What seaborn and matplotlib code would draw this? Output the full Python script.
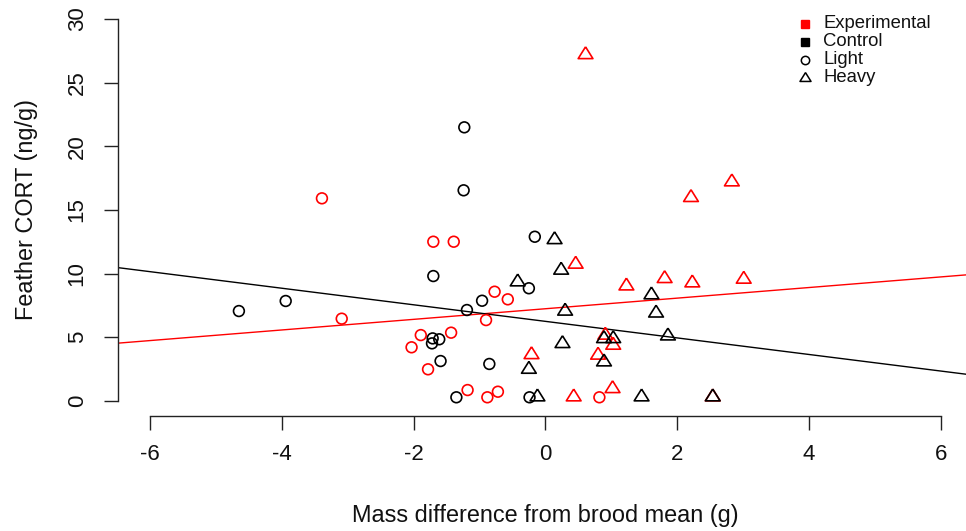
import numpy as np
import pandas as pd
import matplotlib
matplotlib.use("Agg")
import matplotlib.pyplot as plt
import seaborn as sns
from matplotlib.lines import Line2D

# ---------------- data ----------------
exp_light_x = [-3.39, -1.70, -1.39, -3.09, -1.89, -2.03, -1.43, -1.78, -1.18, -0.88, -0.72, -0.77, -0.57, -0.90, 0.82]
exp_light_y = [15.91, 12.50, 12.50, 6.45, 5.16, 4.20, 5.35, 2.47, 0.84, 0.27, 0.71, 8.57, 7.97, 6.34, 0.27]

ctrl_light_x = [-4.65, -3.94, -1.70, -1.23, -1.24, -0.16, -0.25, -0.96, -1.19, -1.71, -1.61, -1.72, -1.59, -0.85, -1.35, -0.24]
ctrl_light_y = [7.05, 7.84, 9.80, 21.49, 16.54, 12.89, 8.84, 7.86, 7.13, 4.90, 4.83, 4.51, 3.12, 2.89, 0.27, 0.27]

exp_heavy_x = [0.61, 2.83, 2.21, 0.46, 1.23, 1.81, 2.23, 3.01, -0.21, 0.43, 1.02, 0.91, 1.03, 0.80, 2.54]
exp_heavy_y = [27.20, 17.20, 15.97, 10.73, 9.02, 9.60, 9.26, 9.55, 3.62, 0.30, 0.95, 5.15, 4.36, 3.58, 0.30]

ctrl_heavy_x = [0.14, 0.24, -0.42, 0.30, 1.61, 1.68, 1.86, 0.26, -0.25, -0.12, 1.46, 0.89, 1.03, 0.89, 2.54]
ctrl_heavy_y = [12.66, 10.26, 9.34, 7.04, 8.32, 6.89, 5.09, 4.49, 2.47, 0.30, 0.30, 4.88, 4.88, 3.05, 0.30]

# fitted regression lines (intercept, slope)
exp_line = (7.23, 0.417)
ctrl_line = (6.24, -0.651)

x_ticks = [-6, -4, -2, 0, 2, 4, 6]
y_ticks = [0, 5, 10, 15, 20, 25, 30]
treatments = ["Experimental", "Control"]
sizes_lbl = ["Light", "Heavy"]

# ---------------- build table ----------------
frames = []
for tr, sz, xs, ys in [("Experimental", "Light", exp_light_x, exp_light_y),
                       ("Control", "Light", ctrl_light_x, ctrl_light_y),
                       ("Experimental", "Heavy", exp_heavy_x, exp_heavy_y),
                       ("Control", "Heavy", ctrl_heavy_x, ctrl_heavy_y)]:
    frames.append(pd.DataFrame({"x": xs, "y": ys, "treatment": tr, "size": sz}))
df = pd.concat(frames, ignore_index=True)

# ---------------- style ----------------
sns.set_style("white")
plt.rcParams["font.family"] = ["Liberation Sans", "DejaVu Sans"]

colors = {"Experimental": "#FF0000", "Control": "#000000"}
# R-like triangle (centroid at data point)
tri = [(0.0, 7.47), (7.0, -3.73), (-7.0, -3.73), (0.0, 7.47)]
markers = {"Light": "o", "Heavy": tri}
msize = {"Light": 60, "Heavy": 128}

fig = plt.figure(figsize=(9.66, 5.31), dpi=100)
ax = fig.add_axes([118.3 / 966, (531 - 416) / 531, (972.4 - 118.3) / 966, (416 - 3.8) / 531])

for sz in sizes_lbl:
    for tr in treatments:
        sub = df[(df["treatment"] == tr) & (df["size"] == sz)]
        sns.scatterplot(data=sub, x="x", y="y", ax=ax, marker=markers[sz], s=msize[sz],
                        facecolor="none", edgecolor=colors[tr], linewidth=1.2,
                        legend=False, zorder=3)

ax.axline((0, exp_line[0]), slope=exp_line[1], color=colors["Experimental"], lw=1.0, zorder=2)
ax.axline((0, ctrl_line[0]), slope=ctrl_line[1], color=colors["Control"], lw=1.0, zorder=2)

ax.set_xlim(-6.48, 6.48)
ax.set_ylim(-1.2, 31.2)
ax.set_xticks(x_ticks)
ax.set_yticks(y_ticks)
ax.set_xticklabels([str(v) for v in x_ticks])
ax.set_yticklabels([str(v) for v in y_ticks])

for side in ["top", "right"]:
    ax.spines[side].set_visible(False)
ax.spines["left"].set_bounds(0, 30)
ax.spines["bottom"].set_bounds(-6, 6)
for side in ["left", "bottom"]:
    ax.spines[side].set_linewidth(1.0)
    ax.spines[side].set_color("#222222")

ax.tick_params(axis="both", direction="out", length=10, width=1.0, color="#222222",
               labelsize=16, labelcolor="#111111")
ax.tick_params(axis="x", pad=10.5, bottom=True)
ax.tick_params(axis="y", pad=12, left=True, labelrotation=90)
for t in ax.get_yticklabels():
    t.set_va("center")

ax.set_xlabel("Mass difference from brood mean (g)", fontsize=16.9, color="#111111")
ax.xaxis.set_label_coords(0.5, -0.2426)
ax.xaxis.label.set_va("center")
ax.set_ylabel("Feather CORT (ng/g)", fontsize=16.9, color="#111111")
ax.yaxis.set_label_coords(-0.1069, 0.5)
ax.yaxis.label.set_va("center")

# legend (no frame, top right)
leg_rows = [("Experimental", dict(marker="s", color="#FF0000", mfc="#FF0000", ms=5.5)),
            ("Control", dict(marker="s", color="#000000", mfc="#000000", ms=5.5)),
            ("Light", dict(marker="o", color="#000000", mfc="none", ms=6.0, mew=1.1)),
            ("Heavy", dict(marker=tri, color="#000000", mfc="none", ms=8.5, mew=1.1))]
row_y = [24.0, 41.7, 60.0, 77.7]
for (lbl, kw), ry in zip(leg_rows, row_y):
    yf = 1 - ry / 531
    fig.add_artist(Line2D([805 / 966], [yf], linestyle="none", transform=fig.transFigure, **kw))
    fig.text(823.3 / 966, yf, lbl, fontsize=13.3, va="center", ha="left", color="#111111")

fig.savefig("out.png", dpi=100)
